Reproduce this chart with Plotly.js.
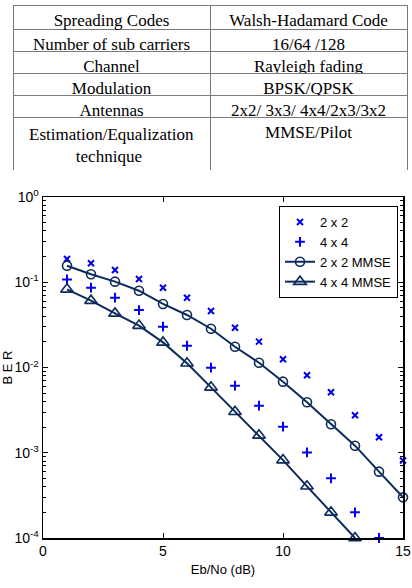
<!DOCTYPE html>
<html>
<head>
<meta charset="utf-8">
<script src="https://cdn.plot.ly/plotly-3.0.1.min.js"></script>
<style>
  html, body { margin: 0; padding: 0; background: #ffffff; }
  #chart { width: 412px; height: 588px; }
</style>
</head>
<body>
<div id="chart"></div>
<script>
// ---- Table data ----
var tableHeader = ['Spreading Codes', 'Walsh-Hadamard Code'];
var tableParams = ['Number of sub carriers', 'Channel', 'Modulation', 'Antennas',
  'Estimation/Equalization<br>\u00a0\u00a0\u00a0\u00a0\u00a0\u00a0\u00a0\u00a0\u00a0\u00a0\u00a0technique'];
var tableValues = ['16/64 /128', 'Rayleigh fading', 'BPSK/QPSK', '2x2/ 3x3/ 4x4/2x3/3x2', 'MMSE/Pilot'];

// ---- Chart data ----
var ebno = [1, 2, 3, 4, 5, 6, 7, 8, 9, 10, 11, 12, 13, 14, 15];
var ber2x2 = [0.187, 0.167, 0.139, 0.109, 0.0863, 0.0659, 0.046, 0.0293, 0.0201, 0.0125, 0.0081, 0.00512, 0.00275, 0.00152, 0.00081];
var ber4x4 = [0.108, 0.0863, 0.0659, 0.0472, 0.0301, 0.018, 0.00995, 0.00612, 0.00357, 0.00202, 0.00101, 0.000501, 0.0002, 0.0001];
var berMmse2x2 = [0.156, 0.124, 0.1016, 0.0796, 0.0556, 0.0413, 0.0285, 0.0175, 0.01138, 0.00682, 0.00391, 0.00216, 0.00121, 0.0006, 0.0003];
var berMmse4x4 = [0.0826, 0.0608, 0.0431, 0.031, 0.0197, 0.0112, 0.00585, 0.00303, 0.0016, 0.00082, 0.000404, 0.0002, 0.0001];
var seriesNames = ['2 x 2', '4 x 4', '2 x 2 MMSE', '4 x 4 MMSE'];

var xTickVals = [0, 5, 10, 15];
var yTickVals = [1e-4, 1e-3, 1e-2, 1e-1, 1];
var yTickText = ['10<sup>-4</sup>', '10<sup>-3</sup>', '10<sup>-2</sup>', '10<sup>-1</sup>', '10<sup>0</sup>'];

var W = 412, H = 588;
var blue = '#0000f0';
var navy = '#0d2a5c';
var serif = 'Liberation Serif, Times New Roman, serif';

var traces = [
  {
    type: 'table',
    domain: { x: [13 / W, 407 / W], y: [1 - 170 / H, 1 - 5 / H] },
    columnwidth: [1, 1],
    header: {
      values: [[tableHeader[0]], [tableHeader[1]]],
      align: 'center',
      height: 24,
      fill: { color: '#ffffff' },
      line: { color: '#7a7a7a', width: 1 },
      font: { family: serif, size: 17, color: '#000000' }
    },
    cells: {
      values: [tableParams, tableValues],
      align: 'center',
      height: 22,
      fill: { color: '#ffffff' },
      line: { color: '#7a7a7a', width: 1 },
      font: { family: serif, size: 17, color: '#000000' }
    }
  },
  {
    type: 'scatter', mode: 'markers', name: seriesNames[0],
    x: ebno.slice(0, ber2x2.length), y: ber2x2, cliponaxis: false,
    marker: { symbol: 'x-thin-open', size: 6, color: blue, line: { color: blue, width: 2 } }
  },
  {
    type: 'scatter', mode: 'markers', name: seriesNames[1],
    x: ebno.slice(0, ber4x4.length), y: ber4x4, cliponaxis: false,
    marker: { symbol: 'cross-thin-open', size: 7, color: blue, line: { color: blue, width: 2 } }
  },
  {
    type: 'scatter', mode: 'lines+markers', name: seriesNames[2],
    x: ebno.slice(0, berMmse2x2.length), y: berMmse2x2, cliponaxis: false,
    line: { color: navy, width: 2 },
    marker: { symbol: 'circle-open', size: 9, color: navy, line: { color: navy, width: 1.6 } }
  },
  {
    type: 'scatter', mode: 'lines+markers', name: seriesNames[3],
    x: ebno.slice(0, berMmse4x4.length), y: berMmse4x4, cliponaxis: false,
    line: { color: navy, width: 2 },
    marker: { symbol: 'triangle-up-open', size: 11, color: navy, line: { color: navy, width: 1.6 } }
  }
];

var layout = {
  width: W, height: H,
  margin: { l: 0, r: 0, t: 0, b: 0, pad: 0 },
  paper_bgcolor: '#ffffff', plot_bgcolor: '#ffffff',
  font: { family: 'Liberation Sans, Arial, sans-serif', size: 13, color: '#000000' },
  showlegend: true,
  legend: {
    x: 279 / W, y: 1 - 206 / H, xanchor: 'left', yanchor: 'top',
    bgcolor: '#ffffff', bordercolor: '#000000', borderwidth: 1,
    font: { family: 'Liberation Sans, Arial, sans-serif', size: 13, color: '#000000' }
  },
  xaxis: {
    domain: [43 / W, 403 / W],
    range: [0, 15],
    tickmode: 'array', tickvals: xTickVals,
    ticks: 'inside', ticklen: 5, tickwidth: 1, tickcolor: '#000000',
    showline: true, linecolor: '#000000', linewidth: 1.5, mirror: 'allticks',
    showgrid: false, zeroline: false,
    tickfont: { size: 14 },
    title: { text: 'Eb/No (dB)', font: { size: 13 }, standoff: 6 }
  },
  yaxis: {
    domain: [(H - 538) / H, (H - 197) / H],
    type: 'log', range: [-4, 0],
    tickmode: 'array', tickvals: yTickVals, ticktext: yTickText,
    ticks: 'inside', ticklen: 5, tickwidth: 1, tickcolor: '#000000',
    minor: { ticks: 'inside', ticklen: 3, tickcolor: '#000000', tickwidth: 1, dtick: 'D1', showgrid: false },
    showline: true, linecolor: '#000000', linewidth: 1.5, mirror: 'allticks',
    showgrid: false, zeroline: false,
    tickfont: { size: 14 },
    title: { text: 'B E R', font: { size: 13 }, standoff: 4 }
  }
};

Plotly.newPlot('chart', traces, layout, { displayModeBar: false, staticPlot: true });
</script>
</body>
</html>
